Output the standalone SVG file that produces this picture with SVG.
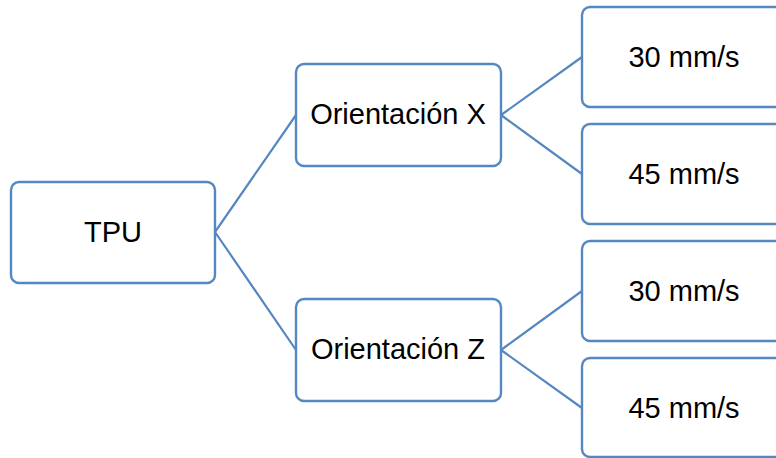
<svg xmlns="http://www.w3.org/2000/svg" width="776" height="458" viewBox="0 0 776 458">
<style>
.box{fill:#fff;stroke:#5587C1;stroke-width:2.4}
.lbl{font-family:"Liberation Sans",Arial,sans-serif;font-size:29px;fill:#000;text-anchor:middle;dominant-baseline:central}
.con{stroke:#5587C1;stroke-width:2.2;fill:none}
</style>
<rect width="776" height="458" fill="#fff"/>
<g id="connectors">
<path class="con" d="M215 232 L296 115 M215 232 L296 350 M501 115 L582 57 M501 115 L582 174 M501 350 L582 291 M501 350 L582 408"/>
</g>
<g id="tpu"><rect class="box" x="11" y="182" width="204" height="101" rx="8"/><text class="lbl" x="113" y="232">TPU</text></g>
<g id="orientX"><rect class="box" x="296" y="64" width="205" height="102" rx="8"/><text class="lbl" x="398" y="114">Orientación X</text></g>
<g id="orientZ"><rect class="box" x="296" y="299" width="205" height="102" rx="8"/><text class="lbl" x="398" y="349">Orientación Z</text></g>
<g id="x30"><rect class="box" x="582" y="7" width="205" height="100" rx="8"/><text class="lbl" x="684" y="57">30 mm/s</text></g>
<g id="x45"><rect class="box" x="582" y="124" width="205" height="100" rx="8"/><text class="lbl" x="684" y="174">45 mm/s</text></g>
<g id="z30"><rect class="box" x="582" y="241" width="205" height="100" rx="8"/><text class="lbl" x="684" y="291">30 mm/s</text></g>
<g id="z45"><rect class="box" x="582" y="358" width="205" height="99" rx="8"/><text class="lbl" x="684" y="408">45 mm/s</text></g>
</svg>
